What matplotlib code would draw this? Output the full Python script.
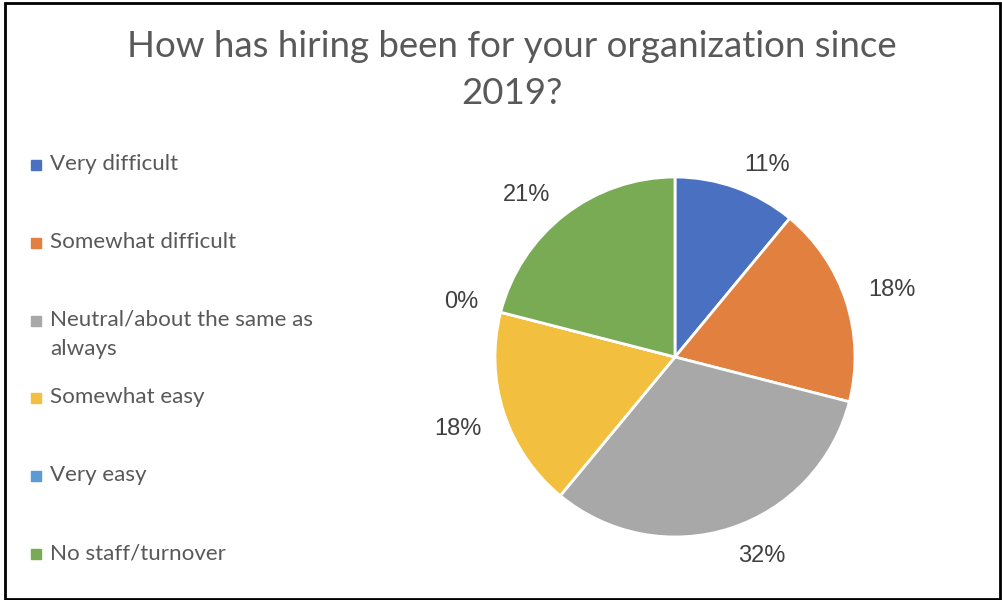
import numpy as np
import matplotlib.pyplot as plt
from matplotlib.patches import Rectangle

# ===== Data =====
categories = ['Very difficult', 'Somewhat difficult', 'Neutral/about the same as\nalways',
              'Somewhat easy', 'Very easy', 'No staff/turnover']
shares = [11, 18, 32, 18, 0, 21]
colors = ['#4a70c2', '#e2803f', '#a8a8a8', '#f2c03e', '#5b9bd5', '#79ab54']

W, H = 1003, 600
fig = plt.figure(figsize=(W / 100, H / 100), dpi=100)

# outer frame
fig.patches.append(Rectangle((5 / W, 1 / H), 995 / W, 596 / H, transform=fig.transFigure,
                             fill=False, edgecolor='black', linewidth=2))

# title
fig.text(512 / W, 1 - 70 / H, 'How has hiring been for your organization since\n2019?',
         ha='center', va='center', fontsize=26.4, color='#595959', family='Lato',
         linespacing=1.55)

# ===== Pie =====
cx, cy, r = 675, 357, 180
ax = fig.add_axes([(cx - r) / W, (H - cy - r) / H, 2 * r / W, 2 * r / H])
wedges, _ = ax.pie(shares, colors=colors, startangle=90, counterclock=False,
                   wedgeprops=dict(edgecolor='white', linewidth=2))
ax.set_xlim(-1, 1)
ax.set_ylim(-1, 1)
ax.set_aspect('equal')
ax.axis('off')

# value labels: nearest corner of the label box sits just outside the rim
for w, v in zip(wedges, shares):
    mid = np.deg2rad((w.theta1 + w.theta2) / 2)
    c, s = np.cos(mid), np.sin(mid)
    d = 1.1
    ax.text(d * c + 0.03 * c, d * s, f'{v}%',
            ha='left' if c >= 0 else 'right',
            va='baseline' if s >= 0 else 'top',
            fontsize=17, color='#404040', family='Liberation Sans')

# ===== Legend =====
y0, step = 163, 77.8
for i, (lab, col) in enumerate(zip(categories, colors)):
    y = y0 + step * i
    fig.patches.append(Rectangle((31 / W, 1 - (y + 7) / H), 10 / W, 10 / H,
                                 transform=fig.transFigure, color=col))
    fig.text(50 / W, 1 - (y - 9) / H, lab, ha='left', va='top', fontsize=16.1,
             color='#595959', family='Lato', linespacing=1.6)

fig.savefig('out.png', dpi=100)
